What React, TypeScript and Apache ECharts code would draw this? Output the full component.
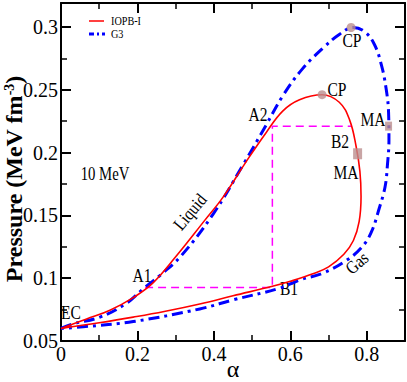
import React, { useEffect, useRef } from 'react';
import * as echarts from 'echarts';

// IOPB-I loop (alpha, pressure)
const iopbLoop: [number, number][] = [
  [0, 0.060], [0.067, 0.0675], [0.128, 0.0745], [0.189, 0.0845], [0.24, 0.096],
  [0.30, 0.117], [0.376, 0.146], [0.424, 0.1645], [0.485, 0.193], [0.537, 0.216],
  [0.58, 0.233], [0.624, 0.242], [0.683, 0.246], [0.728, 0.240], [0.755, 0.226],
  [0.772, 0.205], [0.782, 0.185], [0.785, 0.165], [0.780, 0.145], [0.765, 0.130],
  [0.74, 0.119], [0.70, 0.109], [0.659, 0.1035], [0.60, 0.0975], [0.553, 0.0935],
  [0.45, 0.086], [0.363, 0.0795], [0.27, 0.0735], [0.189, 0.069], [0.10, 0.0645], [0, 0.060],
];

// G3 loop (alpha, pressure)
const g3Loop: [number, number][] = [
  [0, 0.060], [0.03, 0.0635], [0.102, 0.069], [0.171, 0.080], [0.215, 0.0915],
  [0.26, 0.1025], [0.315, 0.118], [0.398, 0.151], [0.476, 0.190], [0.537, 0.222],
  [0.58, 0.245], [0.63, 0.266], [0.685, 0.283], [0.728, 0.294], [0.765, 0.2995],
  [0.795, 0.296], [0.82, 0.286], [0.838, 0.270], [0.850, 0.252], [0.857, 0.232],
  [0.858, 0.21], [0.854, 0.19], [0.848, 0.173], [0.833, 0.156], [0.811, 0.136],
  [0.785, 0.124], [0.746, 0.114], [0.685, 0.104], [0.624, 0.0985], [0.572, 0.092],
  [0.45, 0.0827], [0.363, 0.0755], [0.189, 0.0655], [0.058, 0.0613], [0, 0.060],
];

// Maxwell construction: A1 -> B1 -> A2 -> B2
const maxwellPath: [number, number][] = [
  [0.22, 0.0926], [0.553, 0.0926], [0.553, 0.221], [0.76, 0.221],
];

const cpPoints: [number, number][] = [[0.683, 0.246], [0.759, 0.2995]];
const maRed: [number, number][] = [[0.776, 0.199]];
const maBlue: [number, number][] = [[0.857, 0.221]];

const X_MIN = 0, X_MAX = 0.9, X_MAJOR = 0.2, X_MINOR = 0.1;
const Y_MIN = 0.05, Y_MAX = 0.319, Y_MAJOR = 0.05, Y_MINOR = 0.025;

const serif = 'Liberation Serif';

function App() {
  const ref = useRef<HTMLDivElement>(null);
  useEffect(() => {
    if (!ref.current) return;
    const chart = echarts.init(ref.current, undefined, { renderer: 'svg' });

    const tickAxis = (position: string, interval: number, len: number, showLine: boolean, isX: boolean) => ({
      type: 'value',
      position,
      min: isX ? X_MIN : Y_MIN,
      max: isX ? X_MAX : Y_MAX,
      interval,
      axisLine: { show: showLine, onZero: false, lineStyle: { color: '#000', width: 2 } },
      axisTick: { show: true, inside: true, length: len, lineStyle: { color: '#000', width: len > 8 ? 2 : 1.5 } },
      axisLabel: { show: false },
      splitLine: { show: false },
    });

    const labelStyle = { fontFamily: serif, fontSize: 20, color: '#000' };

    const t = (text: string, x: number, y: number, size = 19, rot = 0, sx = 0.82) => ({
      type: 'text',
      x, y, rotation: rot, scaleX: sx,
      style: { text, fontFamily: serif, fontSize: size, fill: '#000', align: 'center', verticalAlign: 'middle' },
      silent: true,
    });

    chart.setOption({
      animation: false,
      grid: { left: 61, right: 2, top: 3, bottom: 41, containLabel: false, outerBoundsMode: 'none' },
      xAxis: [
        {
          ...tickAxis('bottom', X_MAJOR, 10, true, true),
          axisLabel: { show: true, margin: 3, showMaxLabel: false, ...labelStyle },
          name: 'α', nameLocation: 'middle', nameGap: 16, nameMoveOverlap: false,
          nameTextStyle: { fontFamily: serif, fontSize: 24, color: '#000', verticalAlign: 'top' },
        },
        tickAxis('bottom', X_MINOR, 6, false, true),
        tickAxis('top', X_MAJOR, 10, true, true),
        tickAxis('top', X_MINOR, 6, false, true),
      ],
      yAxis: [
        {
          ...tickAxis('left', Y_MAJOR, 10, true, false),
          axisLabel: { show: true, margin: 3, showMaxLabel: false, ...labelStyle },
          name: '{a|Pressure (MeV fm}{s|-3}{a|)}', nameLocation: 'middle', nameGap: 35, nameRotate: 90,
          nameMoveOverlap: false,
          nameTextStyle: {
            padding: [0, 14, 0, 0],
            rich: {
              a: { fontFamily: serif, fontSize: 24, fontWeight: 'bold', color: '#000' },
              s: { fontFamily: serif, fontSize: 14, fontWeight: 'bold', color: '#000', verticalAlign: 'top', padding: [0, 0, 10, 0] },
            },
          },
        },
        tickAxis('left', Y_MINOR, 6, false, false),
        tickAxis('right', Y_MAJOR, 10, true, false),
        tickAxis('right', Y_MINOR, 6, false, false),
      ],
      series: [
        {
          name: 'IOPB-I', type: 'line', data: iopbLoop, smooth: 0.4, symbol: 'none',
          lineStyle: { color: '#ff0000', width: 1.6 }, z: 3,
        },
        {
          name: 'G3', type: 'line', data: g3Loop, smooth: 0.4, symbol: 'none',
          lineStyle: { color: '#0000ff', width: 3, type: [11, 5, 3, 5] }, z: 2,
        },
        {
          name: 'Maxwell', type: 'line', data: maxwellPath, symbol: 'none',
          lineStyle: { color: '#ff00ff', width: 1.5, type: [8, 5] }, z: 1,
        },
        {
          name: 'CP', type: 'scatter', data: cpPoints, symbol: 'circle', symbolSize: 9,
          itemStyle: { color: '#bc8f8f' }, z: 5,
        },
        {
          name: 'MA red', type: 'scatter', data: maRed, symbol: 'rect', symbolSize: [9, 11],
          itemStyle: { color: '#bc8f8f' }, z: 5,
        },
        {
          name: 'MA blue', type: 'scatter', data: maBlue, symbol: 'rect', symbolSize: [7, 9],
          itemStyle: { color: '#bc8f8f' }, z: 5,
        },
      ],
      graphic: [
        { type: 'line', shape: { x1: 89, y1: 21, x2: 104, y2: 21 }, style: { stroke: '#ff0000', lineWidth: 1.5 } },
        { type: 'line', shape: { x1: 89, y1: 34, x2: 105, y2: 34 }, style: { stroke: '#0000ff', lineWidth: 3, lineDash: [5, 3, 2, 3] } },
        { type: 'text', x: 111, y: 21, scaleX: 0.85, style: { text: 'IOPB-I', fontFamily: serif, fontSize: 12, fill: '#000', align: 'left', verticalAlign: 'middle' } },
        { type: 'text', x: 111, y: 34, scaleX: 0.85, style: { text: 'G3', fontFamily: serif, fontSize: 12, fill: '#000', align: 'left', verticalAlign: 'middle' } },
        t('10 MeV', 105, 174, 18),
        t('EC', 71, 313),
        t('A1', 142, 276),
        t('B1', 289, 289),
        t('A2', 258, 115),
        t('B2', 340, 142),
        t('MA', 346, 173),
        t('MA', 373, 120),
        t('CP', 337, 90),
        t('CP', 352, 41),
        t('Liquid', 190, 212, 18, 50 * Math.PI / 180, 0.85),
        t('Gas', 357, 263, 18, 40 * Math.PI / 180, 0.85),
      ],
    });
    return () => chart.dispose();
  }, []);
  return (
    <div style={{ position: 'fixed', left: 0, top: 0, width: 407, height: 382, background: '#fff' }}>
      <div ref={ref} style={{ width: 407, height: 382 }} />
    </div>
  );
}

export default App;
